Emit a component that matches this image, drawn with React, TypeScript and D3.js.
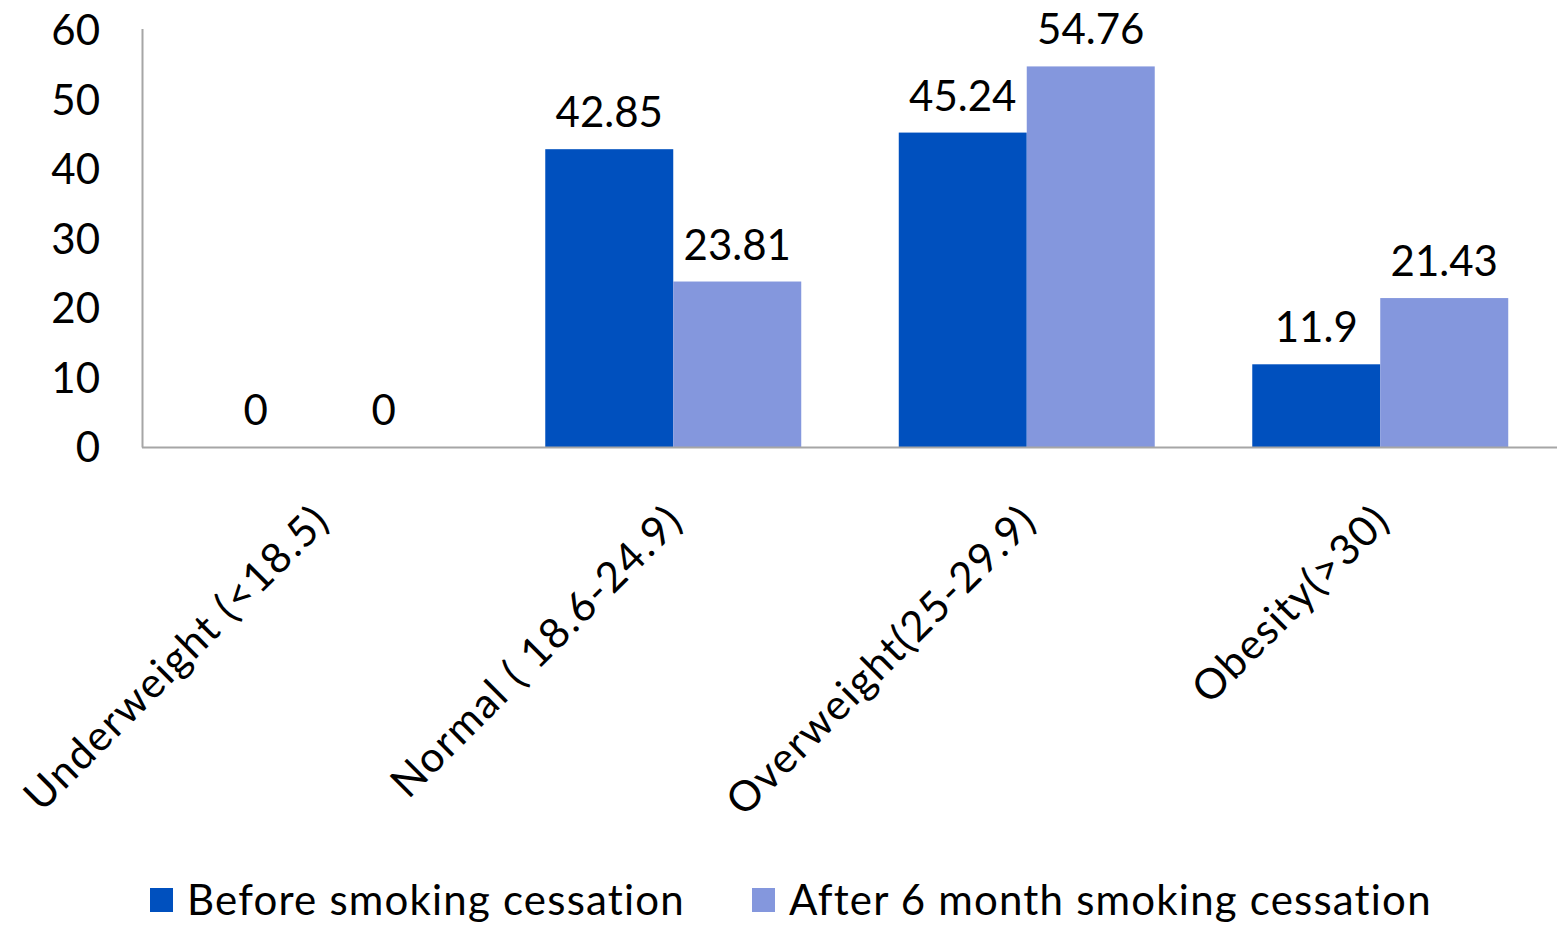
import React from "react";
import * as d3 from "d3";

const categories = ["Underweight (<18.5)", "Normal ( 18.6-24.9)", "Overweight(25-29.9)", "Obesity(>30)"];
const seriesNames = ["Before smoking cessation", "After 6 month smoking cessation"];
const beforeValues = [0, 42.85, 45.24, 11.9];
const afterValues = [0, 23.81, 54.76, 21.43];
const yTicks = [0, 10, 20, 30, 40, 50, 60];
const colors = ["#0050BE", "#8497DD"];

const W = 1564;
const H = 927;
const FONT = "Lato, 'Open Sans', sans-serif";

export default function App() {
  const x = d3.scaleBand<string>().domain(categories).range([143, 1557]).padding(0);
  const inner = d3.scaleBand<string>().domain(seriesNames).range([0, x.bandwidth()]).paddingInner(0).paddingOuter(0.381);
  const y = d3.scaleLinear().domain([0, 60]).range([447, 30]);
  const series = [beforeValues, afterValues];

  const legendX = [150, 752];

  return (
    <svg width={W} height={H} style={{ position: "absolute", left: 0, top: 0, background: "#fff" }}>
      <rect x={0} y={0} width={W} height={H} fill="#fff" />
      {/* bars */}
      {categories.map((c, i) =>
        series.map((vals, s) => {
          const bx = (x(c) as number) + (inner(seriesNames[s]) as number);
          const bw = inner.bandwidth();
          const v = vals[i];
          return (
            <g key={c + s}>
              <rect x={bx} y={y(v)} width={bw} height={y(0) - y(v)} fill={colors[s]} />
              <text
                x={bx + bw / 2}
                y={y(v) - 22}
                textAnchor="middle"
                fontFamily={FONT}
                fontSize={42}
                fill="#000"
              >
                {String(v)}
              </text>
            </g>
          );
        })
      )}
      {/* axes */}
      <line x1={142.5} x2={142.5} y1={29} y2={447.5} stroke="#A6A6A6" strokeWidth={2} />
      <line x1={142} x2={1557} y1={447.5} y2={447.5} stroke="#A6A6A6" strokeWidth={2} />
      {yTicks.map((t) => (
        <text key={t} x={100} y={y(t)} dy="0.36em" textAnchor="end" fontFamily={FONT} fontSize={42} fill="#000">
          {t}
        </text>
      ))}
      {/* category labels */}
      {categories.map((c) => {
        const cx = (x(c) as number) + x.bandwidth() / 2;
        return (
          <text
            key={c}
            transform={`translate(${cx + 12},${523}) rotate(-45)`}
            textAnchor="end"
            fontFamily={FONT}
            fontSize={42}
            letterSpacing={1.6}
            fill="#000"
          >
            {c}
          </text>
        );
      })}
      {/* legend */}
      {seriesNames.map((n, s) => (
        <g key={n}>
          <rect x={legendX[s]} y={888} width={23} height={24} fill={colors[s]} />
          <text x={legendX[s] + 37} y={915} fontFamily={FONT} fontSize={42} letterSpacing={1.2} fill="#000">
            {n}
          </text>
        </g>
      ))}
    </svg>
  );
}
